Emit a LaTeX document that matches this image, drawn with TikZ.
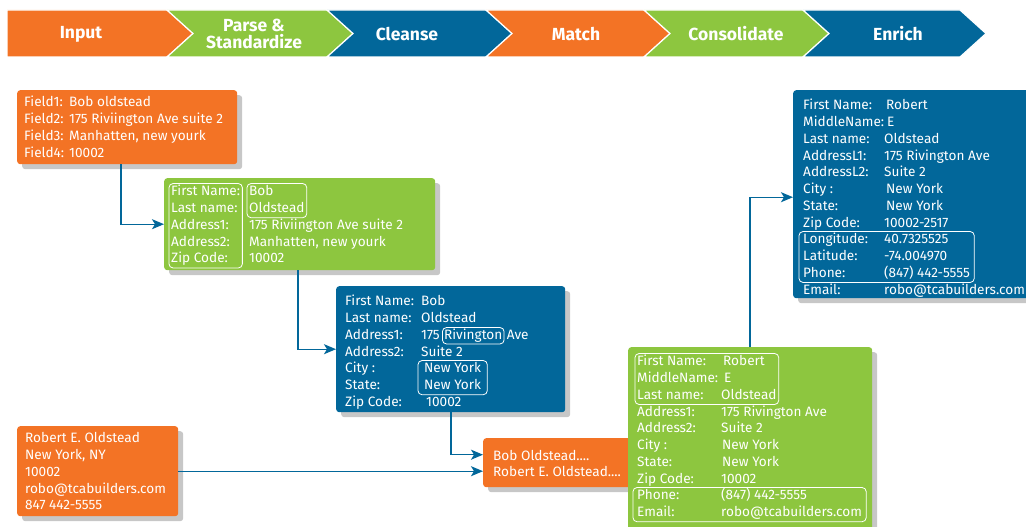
\documentclass[tikz,border=0pt]{standalone}
\usepackage{fontspec}
\setmainfont{Fira Sans}
\newfontfamily\headfont{Fira Sans}
\usetikzlibrary{positioning,shadows,fit,arrows.meta}
\definecolor{dqorange}{HTML}{F37325}
\definecolor{dqgreen}{HTML}{8DC63F}
\definecolor{dqblue}{HTML}{02679A}
\tikzset{
  card/.style={rectangle, rounded corners=3pt, anchor=north west, inner sep=0pt,
    drop shadow={shadow xshift=5pt, shadow yshift=-5pt, fill=black!22, opacity=1}},
  txt/.style={anchor=base west, inner sep=0pt, text=white, text height=10pt, text depth=3pt,
    font=\fontsize{13.6}{15}\selectfont},
  ring/.style={draw=white, rounded corners=4pt, line width=0.8pt, inner sep=2pt},
  flow/.style={draw=dqblue, line width=1.4pt, -{Stealth[length=12pt,width=10pt,inset=3pt]}},
  stage/.style={text=white, font=\headfont\bfseries\fontsize{17.5}{17}\selectfont, align=center}
}
\begin{document}
\begin{tikzpicture}[x=1pt,y=-1pt]
    \useasboundingbox (0,0) rectangle (1026,527);
    \foreach \x/\e/\n/\c/\tx/\t [count=\k] in {7/167/0/dqorange/81/Input,
        167/327/26/dqgreen/254/{Parse \&\\Standardize}, 327/486/26/dqblue/407/Cleanse,
        486/644/26/dqorange/576/Match, 644/803/26/dqgreen/736/Consolidate,
        803/960/26/dqblue/898/Enrich}
    {
        \fill[\c, draw=white, line width=1.2pt] (\x,10) -- (\e,10) -- (\e+26,33.5) -- (\e,57)
            -- (\x,57) -- (\x+\n,33.5) -- cycle;
        \node[stage] (h\k) at (\tx,34) {\t};
    }

    \node[card, fill=dqorange, minimum width=220pt, minimum height=74pt] (a) at (17,90) {};
    \foreach \l/\v [count=\i] in {Field1:/Bob oldstead, Field2:/175 Riviington Ave suite 2,
        Field3:/{Manhatten, new yourk}, Field4:/10002}
    {
        \node[txt] (al\i) at (24,90+16.75*\i) {\l};
        \node[txt] (av\i) at (69,90+16.75*\i) {\v};
    }

    \node[card, fill=dqgreen, minimum width=271pt, minimum height=92pt] (b) at (164,178) {};
    \foreach \l/\v [count=\i] in {First Name:/Bob, Last name:/Oldstead,
        Address1:/175 Riviington Ave suite 2, Address2:/{Manhatten, new yourk}, Zip Code:/10002}
    {
        \node[txt] (bl\i) at (171,179+16.75*\i) {\l};
        \node[txt] (bv\i) at (249,179+16.75*\i) {\v};
    }
    \node[ring, fit=(bl1)(bl5)] (bring1) {};
    \node[ring, fit=(bv1)(bv2)] (bring2) {};

    \node[card, fill=dqblue, minimum width=229pt, minimum height=126pt] (c) at (336,286) {};
    \foreach \l/\vx/\v [count=\i] in {First Name:/421/Bob, Last name:/421/Oldstead,
        Address1:/421/175, Address2:/421/Suite 2, City :/424/New York, State:/424/New York,
        Zip Code:/426/10002}
    {
        \node[txt] (cl\i) at (345,289+16.75*\i) {\l};
        \node[txt] (cv\i) at (\vx,289+16.75*\i) {\v};
    }
    \node[txt, base right=4pt of cv3] (cstreet) {Rivington};
    \node[txt, base right=4pt of cstreet] (cave) {Ave};
    \node[ring, inner sep=1.5pt, fit=(cstreet)] (cring1) {};
    \node[ring, inner xsep=6pt, fit=(cv5)(cv6)] (cring2) {};

    \node[card, fill=dqorange, minimum width=161pt, minimum height=90pt] (d) at (17,426) {};
    \foreach \v [count=\i] in {Robert E. Oldstead, {New York, NY}, 10002,
        robo@tcabuilders.com, 847 442-5555}
        \node[txt] (dv\i) at (25,426+16.75*\i) {\v};

    \node[card, fill=dqorange, minimum width=160pt, minimum height=49pt] (e) at (483,438) {};
    \node[txt] (ev1) at (493,460) {Bob Oldstead....};
    \node[txt] (ev2) at (493,476.5) {Robert E. Oldstead....};

    \node[card, fill=dqgreen, minimum width=244pt, minimum height=190pt] (f) at (628,347) {};
    \foreach \l/\vx/\v [count=\i] in {First Name:/723/Robert, MiddleName:/724/E,
        Last name:/721/Oldstead, Address1:/721/175 Rivington Ave, Address2:/721/Suite 2,
        City :/722/New York, State:/722/New York, Zip Code:/721/10002,
        Phone:/721/(847) 442-5555, Email:/721/robo@tcabuilders.com}
    {
        \node[txt] (fl\i) at (637,349+16.75*\i) {\l};
        \node[txt] (fv\i) at (\vx,349+16.75*\i) {\v};
    }
    \node[ring, fit=(fl1)(fv1)(fv2)(fl3)(fv3)] (fring1) {};
    \node[ring, inner xsep=4pt, fit=(fl9)(fv10)] (fring2) {};

    \node[card, fill=dqblue, minimum width=260pt, minimum height=208pt] (g) at (793,90) {};
    \foreach \l/\vx/\v [count=\i] in {First Name:/886/Robert, MiddleName:/887/E,
        Last name:/884/Oldstead, AddressL1:/884/175 Rivington Ave, AddressL2:/884/Suite 2,
        City :/886/New York, State:/886/New York, Zip Code:/884/10002-2517,
        Longitude:/884/40.7325525, Latitude:/884/-74.004970,
        Phone:/884/(847) 442-5555, Email:/884/robo@tcabuilders.com}
    {
        \node[txt] (gl\i) at (803,93+16.75*\i) {\l};
        \node[txt] (gv\i) at (\vx,93+16.75*\i) {\v};
    }
    \node[ring, inner xsep=4pt, fit=(gl9)(gv11)] (gring) {};

    \draw[flow] ([xshift=104pt]a.south west) |- (b.west);
    \draw[flow] ([xshift=134pt]b.south west) |- (c.west);
    \draw[flow] ([xshift=115pt]c.south west) |- ([yshift=8pt]e.west);
    \draw[flow] (d.east) -- (d.east -| e.west);
    \draw[flow] ([xshift=122pt]f.north west) |- ([yshift=-3pt]g.west);
\end{tikzpicture}
\end{document}
